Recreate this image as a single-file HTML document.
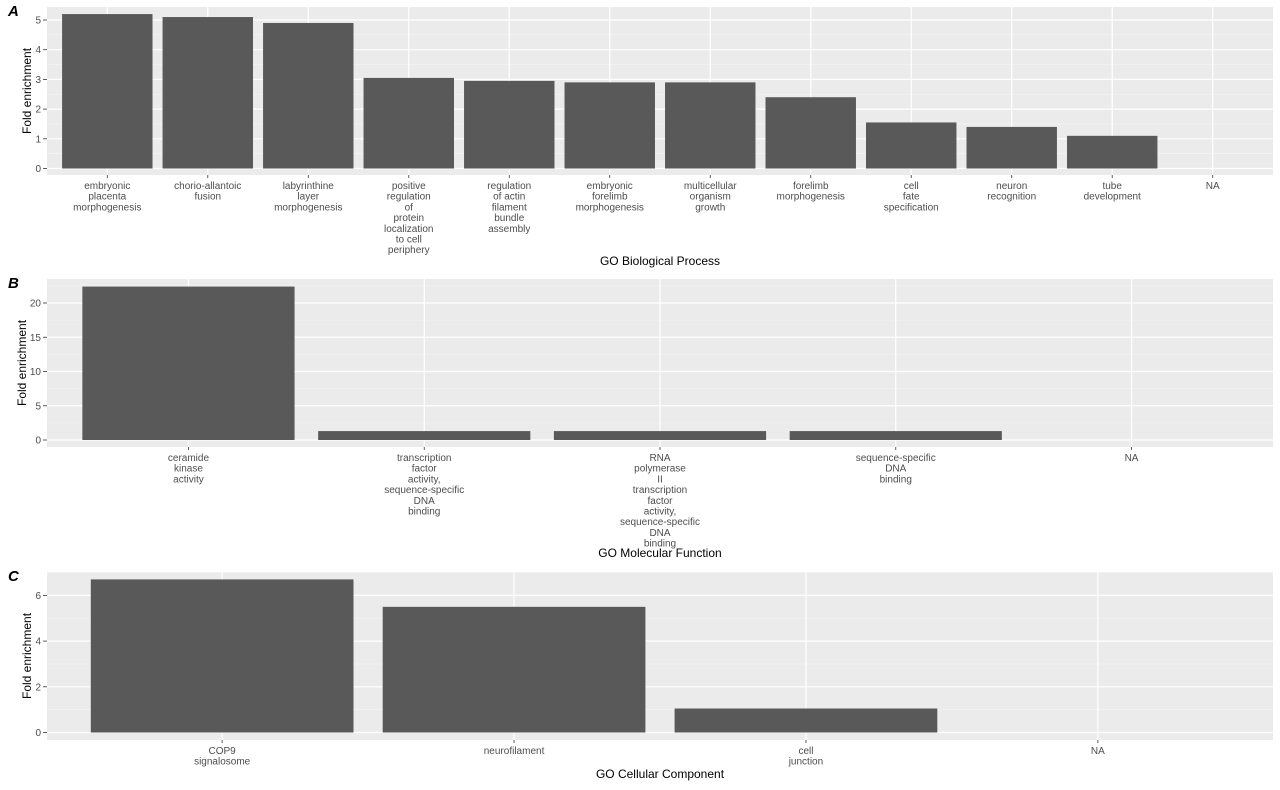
<!DOCTYPE html>
<html><head><meta charset="utf-8"><style>
body{margin:0;background:#fff;}
svg{display:block;font-family:"Liberation Sans",Arial,sans-serif;}
</style></head><body>
<svg id="chart" width="1280" height="790" xmlns="http://www.w3.org/2000/svg"></svg>
<script>
const catsA = [["embryonic","placenta","morphogenesis"],["chorio-allantoic","fusion"],["labyrinthine","layer","morphogenesis"],["positive","regulation","of","protein","localization","to cell","periphery"],["regulation","of actin","filament","bundle","assembly"],["embryonic","forelimb","morphogenesis"],["multicellular","organism","growth"],["forelimb","morphogenesis"],["cell","fate","specification"],["neuron","recognition"],["tube","development"],["NA"]];
const valsA = [5.2,5.1,4.9,3.05,2.95,2.9,2.9,2.4,1.55,1.4,1.1,null];
const ticksA = [0,1,2,3,4,5];
const catsB = [["ceramide","kinase","activity"],["transcription","factor","activity,","sequence-specific","DNA","binding"],["RNA","polymerase","II","transcription","factor","activity,","sequence-specific","DNA","binding"],["sequence-specific","DNA","binding"],["NA"]];
const valsB = [22.4,1.3,1.3,1.3,null];
const ticksB = [0,5,10,15,20];
const catsC = [["COP9","signalosome"],["neurofilament"],["cell","junction"],["NA"]];
const valsC = [6.7,5.5,1.05,null];
const ticksC = [0,2,4,6];

const svg=document.getElementById('chart');
const NS="http://www.w3.org/2000/svg";
function mk(tag,attrs,parent){const e=document.createElementNS(NS,tag);for(const k in attrs)e.setAttribute(k,attrs[k]);(parent||svg).appendChild(e);return e;}

function panel(p){
  const g=mk('g',{});
  
  
  const L=47,R=1273;
  const bg=mk('rect',{x:L,y:p.top,width:R-L,height:p.bottom-p.top,fill:'#ebebeb'},g);
  
  
  const y=v=>p.y0-(v)*p.ppu;
  const n=p.cats.length, step=(R-L)/(n+0.2), x=i=>L+step*(0.6+i);
  // minor grid
  const tk=p.ticks, d=tk[1]-tk[0];
  for(let i=0;i<tk.length;i++){
    const mv=tk[i]+d/2; const yy=y(mv);
    if(yy>p.top) { const l=mk('line',{x1:L,x2:R,y1:yy,y2:yy,stroke:'#f5f5f5','stroke-width':0.6},g);   }
  }
  tk.forEach(t=>{
    const yy=y(t);
    const l=mk('line',{x1:L,x2:R,y1:yy,y2:yy,stroke:'#fff','stroke-width':1.2},g);
    
    
    mk('line',{x1:L-4,x2:L,y1:yy,y2:yy,stroke:'#333','stroke-width':0.8},g);
    const tx=mk('text',{x:L-6,y:yy+3.5,'text-anchor':'end','font-size':10,fill:'#4d4d4d'},g);
    tx.textContent=t;
    
    
  });
  p.cats.forEach((c,i)=>{
    const cx=x(i);
    const l=mk('line',{x1:cx,x2:cx,y1:p.top,y2:p.bottom,stroke:'#fff','stroke-width':1.2},g);
    
    
    mk('line',{x1:cx,x2:cx,y1:p.bottom,y2:p.bottom+3,stroke:'#333','stroke-width':0.8},g);
    if(p.vals[i]!=null){
      const w=step*0.9;
      const b=mk('rect',{x:cx-w/2,y:y(p.vals[i]),width:w,height:y(0)-y(p.vals[i]),fill:'#595959'},g);
      
      
    }
    const t=mk('text',{'text-anchor':'middle','font-size':10,fill:'#4d4d4d'},g);
    
    
    c.forEach((line,j)=>{const s=mk('tspan',{x:cx,y:p.bottom+14+j*10.7},t);s.textContent=line;});
  });
  const tl=mk('text',{x:8,y:p.top+9,'font-size':15,'font-weight':'bold','font-style':'italic',fill:'#000'},g);
  tl.textContent=p.id;
  
  
  const ym=(p.top+p.bottom)/2;
  const yt=mk('text',{x:0,y:0,'text-anchor':'middle','font-size':12,fill:'#000',transform:`translate(${p.yTitleX},${ym}) rotate(-90)`},g);
  yt.textContent='Fold enrichment';
  
  
  const xt=mk('text',{x:(L+R)/2,y:p.xTitleY,'text-anchor':'middle','font-size':12,fill:'#000'},g);
  xt.textContent=p.xTitle;
  
  
}
panel({id:'A',cats:catsA,vals:valsA,ticks:ticksA,top:7,bottom:175,y0:168.5,ppu:29.7,xTitle:'GO Biological Process',xTitleY:265,yTitleX:31});
panel({id:'B',cats:catsB,vals:valsB,ticks:ticksB,top:279,bottom:447,y0:440,ppu:6.85,xTitle:'GO Molecular Function',xTitleY:557,yTitleX:26});
panel({id:'C',cats:catsC,vals:valsC,ticks:ticksC,top:572,bottom:740,y0:732.5,ppu:22.85,xTitle:'GO Cellular Component',xTitleY:778,yTitleX:31});
</script>
</body></html>
